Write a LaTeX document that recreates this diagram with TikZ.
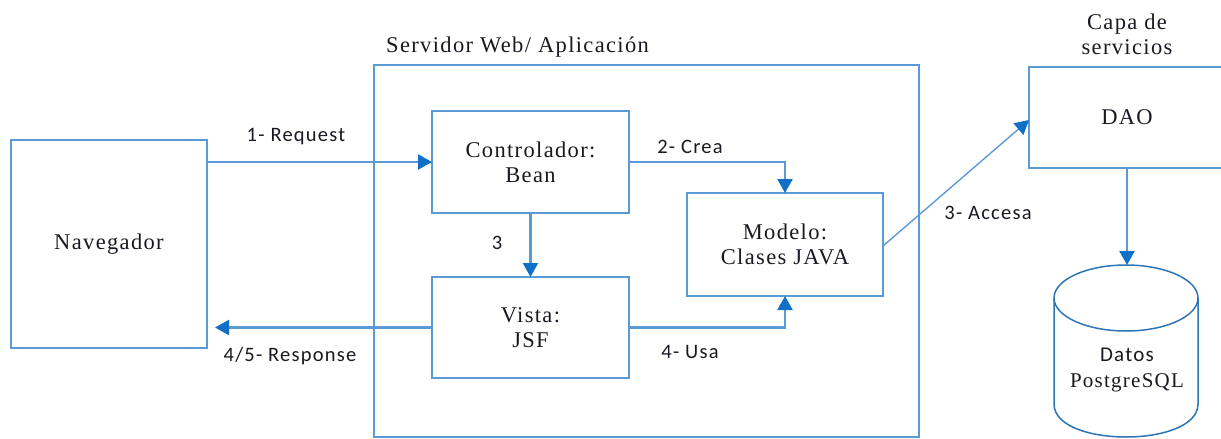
\documentclass[tikz,border=0pt]{standalone}
\usepackage{fontspec}
\setmainfont{Liberation Serif}[LetterSpace=6]
\newfontfamily\lblfont{Carlito}[LetterSpace=6]
\usetikzlibrary{arrows.meta}
\definecolor{boxblue}{RGB}{91,155,213}
\definecolor{tipblue}{RGB}{16,112,200}
\definecolor{cylblue}{RGB}{46,117,182}
\definecolor{txt}{RGB}{25,25,35}
\begin{document}
\begin{tikzpicture}[x=1pt,y=-1pt,
  box/.style={draw=boxblue, line width=2pt, inner sep=0pt, outer sep=0pt, align=center, text=txt, font=\fontsize{22.5}{25}\selectfont},
  conn/.style={draw=boxblue, line width=2.2pt, -{Triangle[width=15pt,length=14pt,color=tipblue]}},
  thinconn/.style={draw=boxblue, line width=1.4pt, -{Triangle[width=15pt,length=14pt,color=tipblue]}},
  lbl/.style={text=txt, font=\lblfont\fontsize{20.5}{23}\selectfont, inner sep=0pt},
  ttl/.style={text=txt, font=\fontsize{22.5}{25}\selectfont, inner sep=0pt, align=center}]
\useasboundingbox (0,0) rectangle (1221,439);
\clip (0,0) rectangle (1221,439);

% containers
\node[box, minimum width=545pt, minimum height=372pt] (srv) at (646.5,251) {};
\node[ttl, anchor=west] (srvttl) at (386,47) {Servidor Web/ Aplicación};

% nodes
\node[box, minimum width=196pt, minimum height=208pt] (nav) at (109,244) {Navegador};
\node[box, minimum width=197pt, minimum height=102pt] (ctrl) at (530.5,162) {Controlador:\\Bean};
\node[box, minimum width=196pt, minimum height=103pt] (mod) at (785,244.5) {Modelo:\\Clases JAVA};
\node[box, minimum width=197pt, minimum height=101pt] (vista) at (530.5,327.5) {Vista:\\JSF};
\node[box, minimum width=196pt, minimum height=101pt] (dao) at (1127,117.5) {DAO};
\node[ttl] (capa) at (1127,34.5) {Capa de\\servicios};

% database cylinder
\draw[cylblue, line width=1.5pt] (1126,298) ellipse [x radius=72pt, y radius=33pt];
\draw[cylblue, line width=1.5pt] (1054,298) -- (1054,404) .. controls (1054,448) and (1198,448) .. (1198,404) -- (1198,298);
\coordinate (dbtop) at (1127,265);
\node[ttl, font=\fontsize{21}{26}\selectfont] (db) at (1127,370) {{\lblfont Datos}\\PostgreSQL};

% connectors
\draw[conn] (ctrl.west -| nav.east) -- (ctrl.west);
\draw[conn] (vista.west) -- ([xshift=8pt]vista.west -| nav.east);
\draw[conn] (ctrl.east) -| (mod.north);
\draw[conn] (ctrl.south) -- (vista.north);
\draw[conn] (vista.east) -| (mod.south);
\draw[thinconn] ([yshift=-1.5pt]mod.east) -- ([yshift=-2.5pt]dao.west);
\draw[conn] (dao.south) -- (dbtop);

% labels
\node[lbl] (l1) at (296,137) {1- Request};
\node[lbl] (l45) at (290,356) {4/5- Response};
\node[lbl] (l2) at (690,147) {2- Crea};
\node[lbl] (l3) at (497,243) {3};
\node[lbl] (l4) at (690,352) {4- Usa};
\node[lbl] (l3a) at (988,213) {3- Accesa};
\end{tikzpicture}
\end{document}
